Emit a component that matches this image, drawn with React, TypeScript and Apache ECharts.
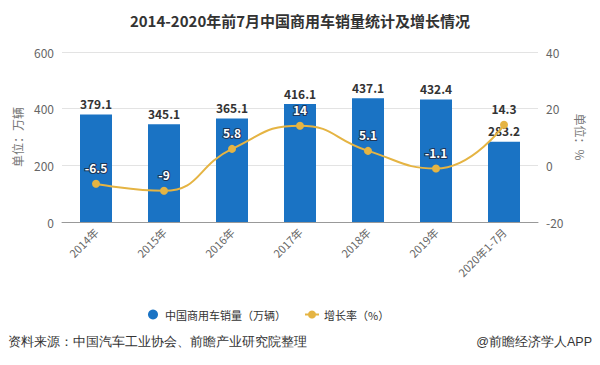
import React, { useEffect, useRef } from "react";
import * as echarts from "echarts";

const categories = ["2014年", "2015年", "2016年", "2017年", "2018年", "2019年", "2020年1-7月"];
const salesValues = [379.1, 345.1, 365.1, 416.1, 437.1, 432.4, 283.2];
const growthValues = [-6.5, -9, 5.8, 14, 5.1, -1.1, 14.3];
const salesName = "中国商用车销量（万辆）";
const growthName = "增长率（%）";
const titleText = "2014-2020年前7月中国商用车销量统计及增长情况";
const sourceText = "资料来源：中国汽车工业协会、前瞻产业研究院整理";
const brandText = "@前瞻经济学人APP";

export default function App() {
  const ref = useRef<HTMLDivElement>(null);
  useEffect(() => {
    if (!ref.current) return;
    const chart = echarts.init(ref.current, undefined, { renderer: "svg" });
    const font = "'Noto Sans CJK SC', 'Noto Sans', sans-serif";
    const growthData = growthValues.map((v, i) =>
      i === growthValues.length - 1
        ? { value: v, label: { color: "#333", textBorderWidth: 0 } }
        : v
    );
    chart.setOption({
      animation: false,
      textStyle: { fontFamily: font },
      title: {
        text: titleText,
        left: "center",
        top: 8,
        textStyle: { fontSize: 15, fontWeight: "bold", color: "#333", fontFamily: font },
      },
      legend: {
        top: 304,
        left: 143,
        itemGap: 18,
        itemWidth: 14,
        itemHeight: 10,
        textStyle: { fontSize: 11, color: "#333", fontFamily: font },
        data: [{ name: salesName, icon: "circle" }, { name: growthName }],
      },
      grid: { left: 62, right: 62, top: 52, bottom: 143 },
      xAxis: {
        type: "category",
        data: categories,
        axisLine: { lineStyle: { color: "#999" } },
        axisTick: { alignWithLabel: true, lineStyle: { color: "#999" } },
        axisLabel: { rotate: 45, color: "#666", fontSize: 11, margin: 8 },
      },
      yAxis: [
        {
          type: "value",
          min: 0,
          max: 600,
          interval: 200,
          name: "单位：万辆",
          nameLocation: "middle",
          nameRotate: 90,
          nameGap: 38,
          nameTextStyle: { color: "#777777", fontSize: 12 },
          axisLine: { show: false, lineStyle: { color: "#777777" } },
          axisTick: { show: false },
          axisLabel: { color: "#666", fontSize: 12 },
          splitLine: { lineStyle: { color: "#e3e3e3" } },
        },
        {
          type: "value",
          min: -20,
          max: 40,
          interval: 20,
          name: "单位：%",
          nameLocation: "middle",
          nameRotate: -90,
          nameGap: 36,
          nameTextStyle: { color: "#777777", fontSize: 12 },
          axisLine: { show: false, lineStyle: { color: "#777777" } },
          axisTick: { show: false },
          axisLabel: { color: "#666", fontSize: 12 },
          splitLine: { show: false },
        },
      ],
      series: [
        {
          name: salesName,
          type: "bar",
          data: salesValues,
          barWidth: 32,
          itemStyle: { color: "#1a73c4" },
          label: {
            show: true,
            position: "top",
            color: "#333",
            fontWeight: "bold",
            fontSize: 12,
            distance: 5,
          },
        },
        {
          name: growthName,
          type: "line",
          yAxisIndex: 1,
          data: growthData,
          smooth: true,
          symbol: "circle",
          symbolSize: 8,
          lineStyle: { color: "#e5b443", width: 2 },
          itemStyle: { color: "#e5b443" },
          label: {
            show: true,
            position: "top",
            distance: 6,
            color: "#fff",
            fontWeight: "bold",
            fontSize: 12,
            textBorderColor: "#1d3557",
            textBorderWidth: 2,
          },
          z: 5,
        },
      ],
      graphic: [
        {
          type: "text",
          left: 8,
          top: 335,
          style: { text: sourceText, fontSize: 12.5, fill: "#333", font: `12.5px ${font}` },
        },
        {
          type: "text",
          right: 8,
          top: 335,
          style: { text: brandText, fontSize: 12.5, fill: "#333", font: `12.5px ${font}` },
        },
      ],
    });
    return () => chart.dispose();
  }, []);
  return <div ref={ref} style={{ width: 600, height: 365, margin: -8 }} />;
}
